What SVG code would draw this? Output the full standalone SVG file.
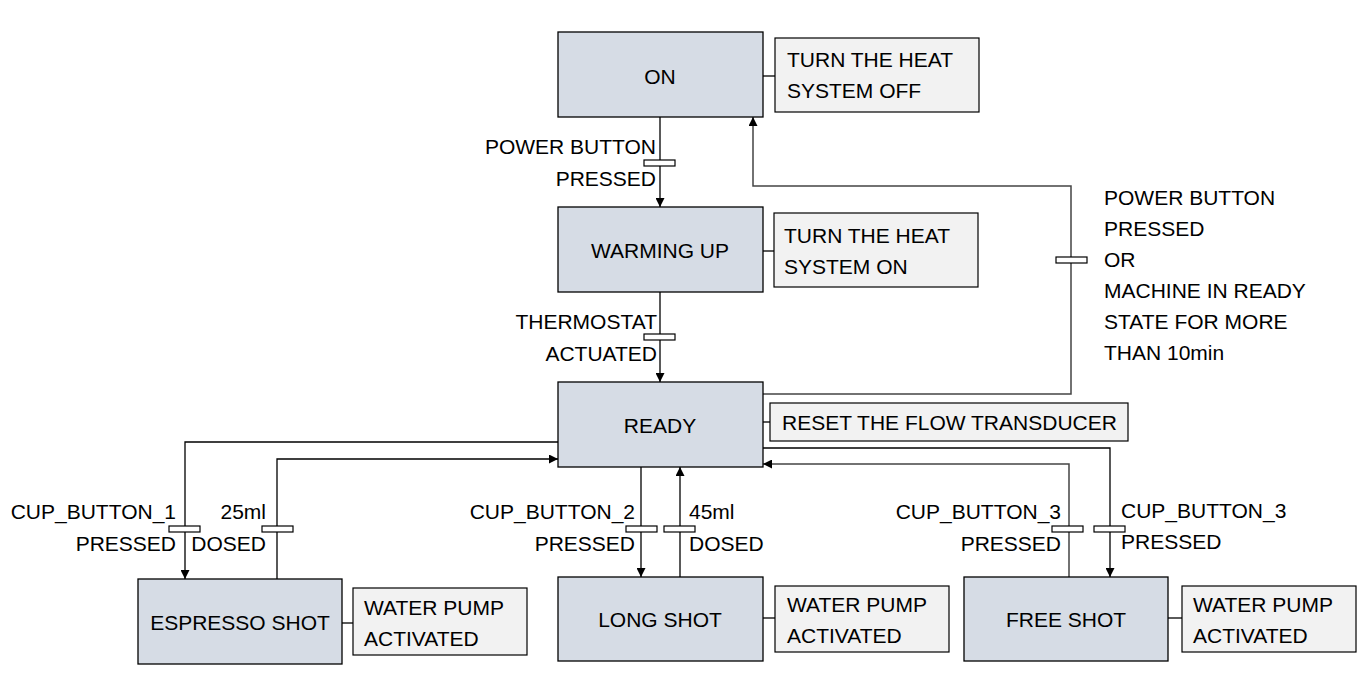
<svg xmlns="http://www.w3.org/2000/svg" width="1365" height="682" viewBox="0 0 1365 682">
<style>
text{font-family:"Liberation Sans",Arial,sans-serif;font-size:21px;fill:#000}
.st{fill:#d6dce5;stroke:#000;stroke-width:1.3}
.ac{fill:#f2f2f2;stroke:#000;stroke-width:1.2}
.ln{fill:none;stroke:#000;stroke-width:1.3}
.gl{fill:none;stroke:#444;stroke-width:1.5}
.bar{fill:#fff;stroke:#000;stroke-width:1.2}
.c{text-anchor:middle}
.e{text-anchor:end}
</style>
<defs>
<marker id="ah" viewBox="0 0 10 10" refX="10" refY="5" markerWidth="9" markerHeight="9" markerUnits="userSpaceOnUse" orient="auto">
<path d="M0,0 L10,5 L0,10 z" fill="#000"/>
</marker>
</defs>
<g id="connectors">
<line class="ln" x1="763" y1="76" x2="775" y2="76"/>
<line class="ln" x1="763" y1="251" x2="774" y2="251"/>
<line class="ln" x1="763" y1="422" x2="770" y2="422"/>
<line class="ln" x1="342" y1="623" x2="353" y2="623"/>
<line class="ln" x1="763" y1="618" x2="775" y2="618"/>
<line class="ln" x1="1168" y1="618" x2="1182" y2="618"/>
<line class="ln" x1="660" y1="117" x2="660" y2="207" marker-end="url(#ah)"/>
<line class="ln" x1="660" y1="292" x2="660" y2="382" marker-end="url(#ah)"/>
<polyline class="gl" points="763,394 1071,394 1071,186 753,186 753,117" marker-end="url(#ah)"/>
<polyline class="ln" points="558,442 185,442 185,579" marker-end="url(#ah)"/>
<polyline class="ln" points="277,579 277,459 558,459" marker-end="url(#ah)"/>
<line class="ln" x1="641" y1="467" x2="641" y2="577" marker-end="url(#ah)"/>
<line class="ln" x1="680" y1="577" x2="680" y2="467" marker-end="url(#ah)"/>
<polyline class="gl" points="1069,577 1069,464 763,464" marker-end="url(#ah)"/>
<polyline class="ln" points="763,448 1110,448 1110,577" marker-end="url(#ah)"/>
<rect class="bar" x="644" y="160" width="31" height="6"/>
<rect class="bar" x="644" y="334" width="31" height="6"/>
<rect class="bar" x="1056" y="257" width="31" height="6"/>
<rect class="bar" x="169" y="526" width="31" height="6"/>
<rect class="bar" x="262" y="526" width="31" height="6"/>
<rect class="bar" x="626" y="526" width="31" height="6"/>
<rect class="bar" x="664" y="526" width="31" height="6"/>
<rect class="bar" x="1052" y="526" width="31" height="6"/>
<rect class="bar" x="1094" y="526" width="31" height="6"/>
</g>
<g id="labels">
<text class="e" x="656" y="154">POWER BUTTON</text>
<text class="e" x="656" y="186">PRESSED</text>
<text class="e" x="657" y="329">THERMOSTAT</text>
<text class="e" x="657" y="361">ACTUATED</text>
<text x="1104" y="205">POWER BUTTON</text>
<text x="1104" y="236">PRESSED</text>
<text x="1104" y="267">OR</text>
<text x="1104" y="298">MACHINE IN READY</text>
<text x="1104" y="329">STATE FOR MORE</text>
<text x="1104" y="360">THAN 10min</text>
<text class="e" x="176" y="519">CUP_BUTTON_1</text>
<text class="e" x="176" y="551">PRESSED</text>
<text class="e" x="266" y="519">25ml</text>
<text class="e" x="266" y="551">DOSED</text>
<text class="e" x="635" y="519">CUP_BUTTON_2</text>
<text class="e" x="635" y="551">PRESSED</text>
<text x="689" y="519">45ml</text>
<text x="689" y="551">DOSED</text>
<text class="e" x="1061" y="519">CUP_BUTTON_3</text>
<text class="e" x="1061" y="551">PRESSED</text>
<text x="1121" y="518">CUP_BUTTON_3</text>
<text x="1121" y="549">PRESSED</text>
</g>
<g id="on">
<rect class="st" x="558" y="32" width="205" height="85"/>
<text class="c" x="660" y="84">ON</text>
</g>
<g id="on-action">
<rect class="ac" x="775" y="38" width="204" height="74"/>
<text x="787" y="67">TURN THE HEAT</text>
<text x="787" y="98">SYSTEM OFF</text>
</g>
<g id="warming-up">
<rect class="st" x="558" y="207" width="205" height="85"/>
<text class="c" x="660" y="258">WARMING UP</text>
</g>
<g id="warming-action">
<rect class="ac" x="774" y="213" width="204" height="74"/>
<text x="784" y="243">TURN THE HEAT</text>
<text x="784" y="274">SYSTEM ON</text>
</g>
<g id="ready">
<rect class="st" x="558" y="382" width="205" height="85"/>
<text class="c" x="660" y="433">READY</text>
</g>
<g id="ready-action">
<rect class="ac" x="770" y="403" width="358" height="38"/>
<text x="782" y="430">RESET THE FLOW TRANSDUCER</text>
</g>
<g id="espresso-shot">
<rect class="st" x="138" y="579" width="204" height="85"/>
<text class="c" x="240" y="630">ESPRESSO SHOT</text>
</g>
<g id="espresso-action">
<rect class="ac" x="353" y="588" width="174" height="67"/>
<text x="364" y="615">WATER PUMP</text>
<text x="364" y="646">ACTIVATED</text>
</g>
<g id="long-shot">
<rect class="st" x="558" y="577" width="205" height="84"/>
<text class="c" x="660" y="627">LONG SHOT</text>
</g>
<g id="long-action">
<rect class="ac" x="775" y="586" width="174" height="66"/>
<text x="787" y="612">WATER PUMP</text>
<text x="787" y="643">ACTIVATED</text>
</g>
<g id="free-shot">
<rect class="st" x="964" y="577" width="204" height="84"/>
<text class="c" x="1066" y="627">FREE SHOT</text>
</g>
<g id="free-action">
<rect class="ac" x="1182" y="586" width="174" height="66"/>
<text x="1193" y="612">WATER PUMP</text>
<text x="1193" y="643">ACTIVATED</text>
</g>
</svg>
